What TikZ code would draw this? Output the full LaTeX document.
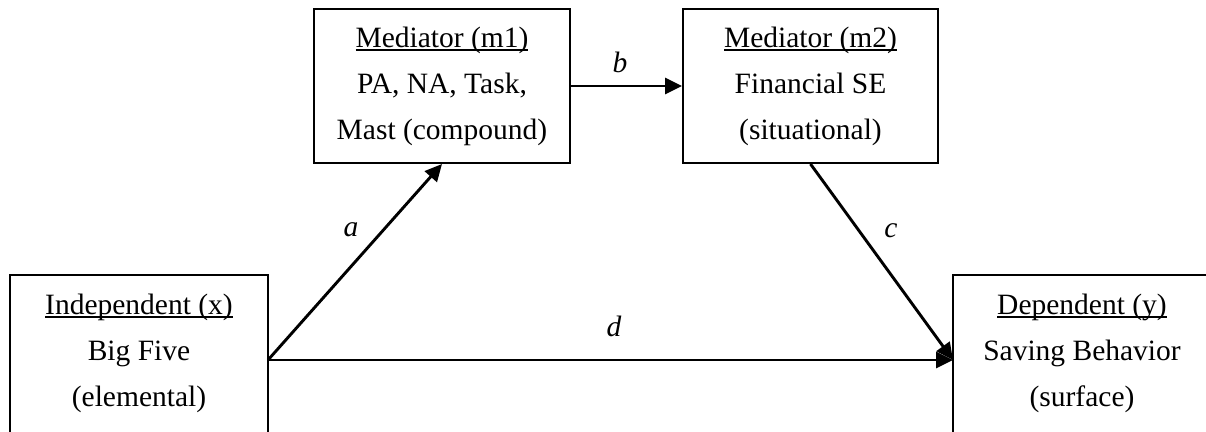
\documentclass[tikz,border=0pt]{standalone}
\usepackage{fontspec}
\setmainfont{Liberation Serif}
\usetikzlibrary{arrows.meta}

% heading with a heavier underline
\newcommand\hdline[1]{\setbox0\hbox{#1}\leavevmode\rlap{\rule[-3.8pt]{\wd0}{1.9pt}}\box0}

\tikzset{
  varbox/.style={draw, line width=2pt, minimum width=256pt, minimum height=154pt,
    inner sep=0pt, align=center, font=\fontsize{29.5}{46}\selectfont},
  openbox/.style={varbox, draw=none},
  path/.style={line width=2.9pt, -{Triangle[length=17pt,width=16pt]}},
  coef/.style={font=\fontsize{29.5}{36}\selectfont\itshape, inner sep=0pt},
}

\begin{document}
\begin{tikzpicture}[x=1pt,y=-1pt]
  \useasboundingbox (0,0) rectangle (1206,431);

  % mediators
  \node[varbox] (m1) at (442,86) {\hdline{Mediator (m1)}\\PA, NA, Task,\\Mast (compound)};
  \node[varbox, minimum width=255pt] (m2) at (810.5,86) {\hdline{Mediator (m2)}\\Financial SE\\(situational)};

  % independent and dependent variables (bottom edges fall below the frame)
  \node[openbox] (xv) at (139,353) {\hdline{Independent (x)}\\Big Five\\(elemental)};
  \node[openbox] (yv) at (1082,353) {\hdline{Dependent (y)}\\Saving Behavior\\(surface)};
  \draw[line width=2pt] ([yshift=-20pt]xv.south west) -- (xv.north west) -- (xv.north east) -- ([yshift=-20pt]xv.south east);
  \draw[line width=2pt] ([yshift=-20pt]yv.south west) -- (yv.north west) -- (yv.north east) -- ([yshift=-20pt]yv.south east);

  % paths
  \coordinate (xout) at ([yshift=-7pt]xv.east);
  \coordinate (yin) at ([yshift=-7pt]yv.west);
  \draw[path] (xout) -- (m1.south);
  \draw[path] (m1.east) -- (m2.west);
  \draw[path] (m2.south) -- (yin);
  \draw[path] (xout) -- (yin);

  % path coefficients
  \node[coef] (la) at (351,230) {a};
  \node[coef] (lb) at (620,62) {b};
  \node[coef] (lc) at (891,231) {c};
  \node[coef] (ld) at (614,326) {d};
\end{tikzpicture}
\end{document}
